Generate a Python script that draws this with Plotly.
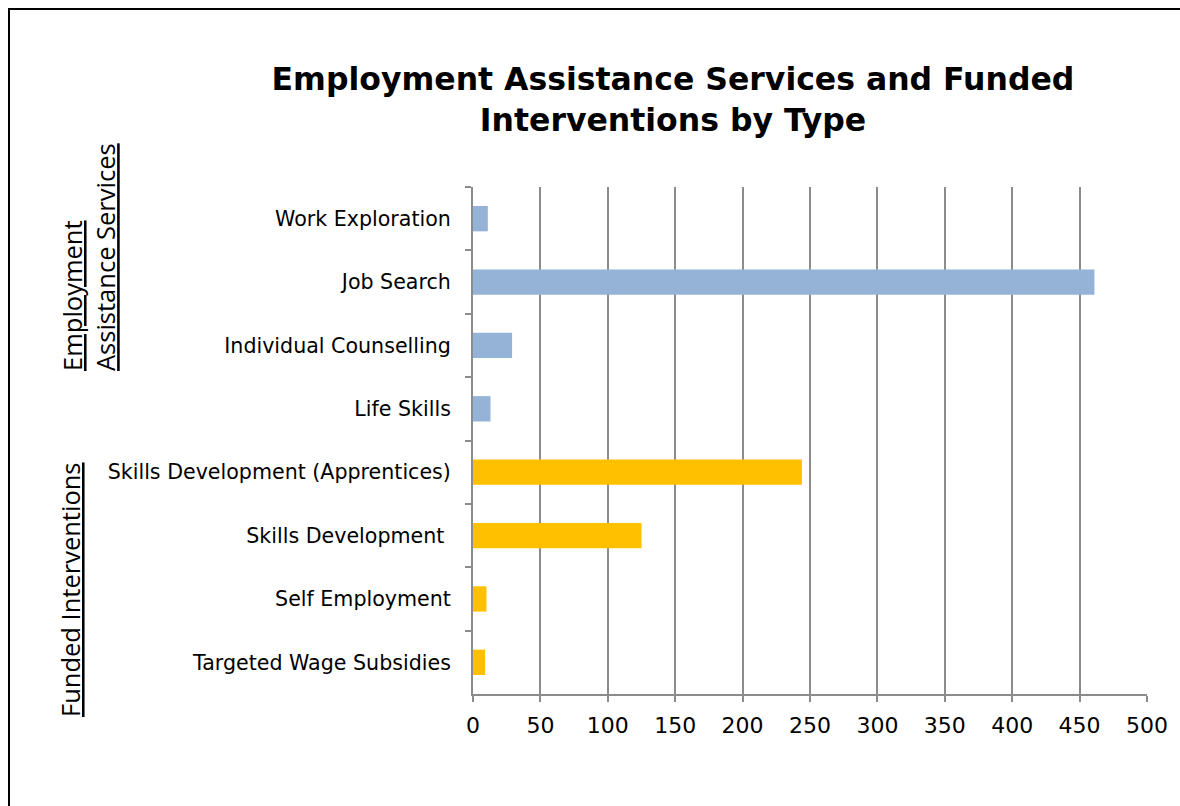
import plotly.graph_objects as go

categories = ["Work Exploration", "Job Search", "Individual Counselling", "Life Skills",
              "Skills Development (Apprentices)", "Skills Development\u00a0", "Self Employment",
              "Targeted Wage Subsidies"]
values = [11, 461, 29, 13, 244, 125, 10, 9]
groups = ["Employment Assistance Services"] * 4 + ["Funded Interventions"] * 4
group_colors = {"Employment Assistance Services": "#95B3D7", "Funded Interventions": "#FFC000"}
x_ticks = [0, 50, 100, 150, 200, 250, 300, 350, 400, 450, 500]

W, H = 1180, 806
L, R, T, B = 473, 1147, 187, 694

fig = go.Figure(go.Bar(
    y=categories, x=values, orientation="h",
    marker=dict(color=[group_colors[g] for g in groups], line=dict(width=0)),
    width=0.4, showlegend=False,
))

font_main = "'DejaVu Sans', sans-serif"

fig.update_layout(
    width=W, height=H,
    margin=dict(l=L, r=W - R, t=T, b=H - B, autoexpand=False),
    paper_bgcolor="white", plot_bgcolor="white",
    font=dict(family=font_main, color="#000000", size=20),
    bargap=0.6,
    title=dict(
        text="<b>Employment Assistance Services and Funded<br>Interventions by Type</b>",
        x=673 / W, xanchor="center", xref="container",
        y=1 - 90 / H, yanchor="middle", yref="container",
        font=dict(size=31.5, family=font_main, color="#000000"),
    ),
    xaxis=dict(
        range=[0, 500], tickvals=x_ticks, ticktext=[str(v) for v in x_ticks],
        showgrid=True, gridcolor="#8C8C8C", gridwidth=2,
        showline=True, linecolor="#8C8C8C", linewidth=2,
        ticks="outside", ticklen=6, tickwidth=2, tickcolor="#8C8C8C",
        tickfont=dict(size=22, family=font_main, color="#000000"),
        ticklabelstandoff=5, zeroline=False, fixedrange=True,
    ),
    yaxis=dict(
        autorange="reversed", type="category",
        showgrid=False, showline=True, linecolor="#8C8C8C", linewidth=2,
        ticks="outside", ticklen=6, tickwidth=2, tickcolor="#8C8C8C",
        tickson="boundaries",
        tickfont=dict(size=20.6, family=font_main, color="#000000"),
        ticklabelstandoff=16, fixedrange=True,
    ),
)

# outer frame (extends past the right and bottom edges)
def px_x(p):
    return (p - L) / (R - L)

def px_y(p):
    return (B - p) / (B - T)

fig.add_shape(type="rect", xref="paper", yref="paper",
              x0=px_x(9), x1=px_x(1190), y0=px_y(9), y1=px_y(820),
              line=dict(color="#000000", width=2), fillcolor="rgba(0,0,0,0)", layer="below")

grp_font = dict(family="'Open Sans', Lato, sans-serif", size=25.5, color="#000000")
fig.add_annotation(text="<u>Employment</u><br><u>Assistance Services</u>",
                   xref="paper", yref="paper", x=px_x(88), y=px_y(373),
                   xanchor="center", yanchor="bottom", textangle=-90, align="left",
                   showarrow=False, font=grp_font)
fig.add_annotation(text="<u>Funded Interventions</u>",
                   xref="paper", yref="paper", x=px_x(70), y=px_y(589),
                   xanchor="center", yanchor="middle", textangle=-90,
                   showarrow=False, font=grp_font)

fig.write_html("out.html")
